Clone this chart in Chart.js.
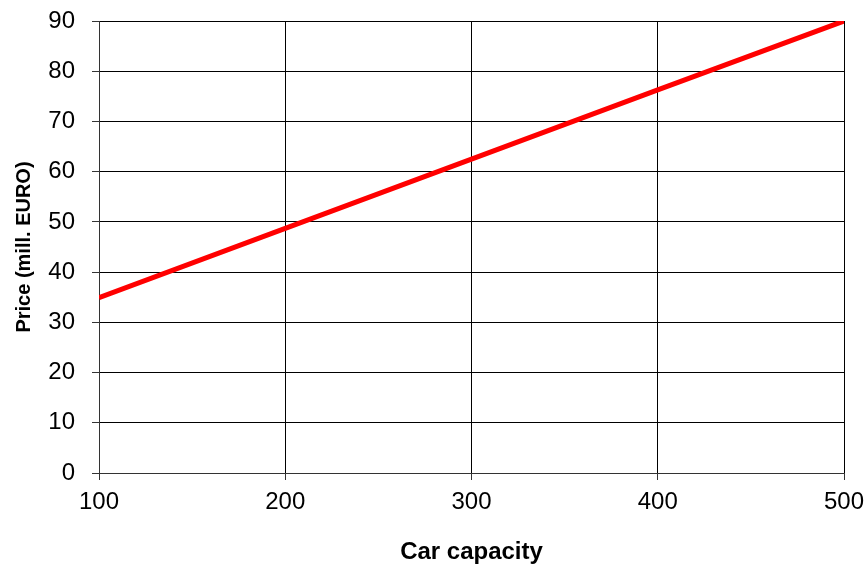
<!DOCTYPE html>
<html>
<head>
<meta charset="utf-8">
<script src="https://cdn.jsdelivr.net/npm/chart.js@4/dist/chart.umd.min.js"></script>
<style>
    html, body { margin: 0; padding: 0; background: #fff; }
    #wrap { width: 867px; height: 567px; }
</style>
</head>
<body>
<div id="wrap"><canvas id="grafico"></canvas></div>
<script>
// values
const capacidade = [100, 200, 300, 400, 500];
const preco = [34.9, 48.7, 62.5, 76.3, 90];
const xTicks = [100, 200, 300, 400, 500];
const yTicks = [0, 10, 20, 30, 40, 50, 60, 70, 80, 90];

const fonte = "'Liberation Sans', Arial, sans-serif";

new Chart(document.getElementById('grafico'), {
    type: 'line',
    data: {
        datasets: [{
            data: capacidade.map((c, i) => ({ x: c, y: preco[i] })),
            borderColor: '#ff0000',
            borderWidth: 5,
            pointRadius: 0,
            tension: 0,
            fill: false
        }]
    },
    options: {
        responsive: true,
        maintainAspectRatio: false,
        animation: false,
        layout: { padding: { left: 0, right: 23, top: 21, bottom: 0 } },
        plugins: {
            legend: { display: false },
            tooltip: { enabled: false }
        },
        scales: {
            x: {
                type: 'linear',
                min: 100,
                max: 500,
                afterBuildTicks: s => { s.ticks = xTicks.map(v => ({ value: v })); },
                afterFit: s => { s.height = 94; s.paddingLeft = 0; s.paddingRight = 0; },
                ticks: { color: '#000', font: { family: fonte, size: 24 }, padding: 8, maxRotation: 0 },
                grid: { color: '#000', lineWidth: 1, tickLength: 7, tickColor: '#333' },
                border: { color: '#333', width: 1 },
                title: {
                    display: true,
                    text: 'Car capacity',
                    color: '#000',
                    font: { family: fonte, size: 24, weight: 'bold' },
                    padding: { bottom: 0 }
                }
            },
            y: {
                min: 0,
                max: 90,
                afterBuildTicks: s => { s.ticks = yTicks.map(v => ({ value: v })); },
                afterFit: s => { s.width = 99; s.paddingTop = 0; s.paddingBottom = 0; },
                ticks: { color: '#000', font: { family: fonte, size: 24 }, padding: 17 },
                grid: { color: '#000', lineWidth: 1, tickLength: 7, tickColor: '#333' },
                border: { color: '#333', width: 1 },
                title: {
                    display: true,
                    text: 'Price (mill. EURO)',
                    color: '#000',
                    font: { family: fonte, size: 20, weight: 'bold' },
                    padding: { top: 12 }
                }
            }
        }
    }
});
</script>
</body>
</html>
